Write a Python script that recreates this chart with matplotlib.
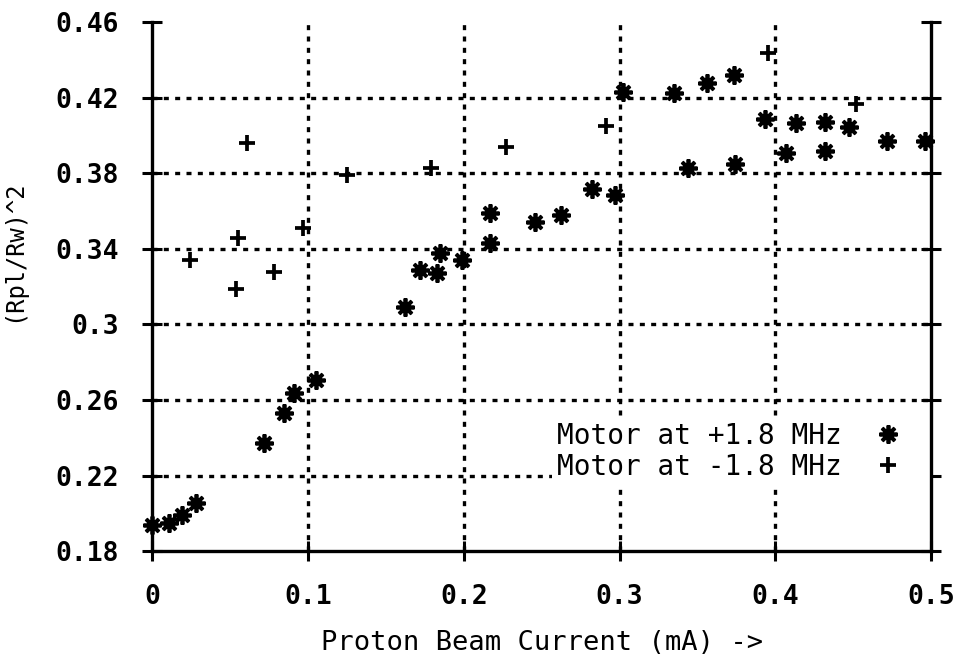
import matplotlib
matplotlib.use("Agg")
import matplotlib.pyplot as plt

# ---------- data ----------
pos_x = [0.0, 0.011, 0.019, 0.028, 0.072, 0.0845, 0.091, 0.105, 0.1626, 0.172,
         0.183, 0.185, 0.199, 0.217, 0.217, 0.246, 0.2626, 0.2826, 0.297, 0.302,
         0.335, 0.344, 0.356, 0.3735, 0.374, 0.3935, 0.407, 0.4135, 0.4316,
         0.4316, 0.447, 0.4716, 0.496]
pos_y = [0.1938, 0.1948, 0.199, 0.2054, 0.237, 0.253, 0.2636, 0.2705, 0.309, 0.329,
         0.327, 0.338, 0.334, 0.343, 0.359, 0.354, 0.358, 0.3715, 0.3684, 0.423,
         0.4223, 0.383, 0.428, 0.432, 0.385, 0.4086, 0.391, 0.4065, 0.407,
         0.3916, 0.4043, 0.397, 0.397]

neg_x = [0.0245, 0.054, 0.055, 0.061, 0.078, 0.097, 0.125, 0.179, 0.227, 0.291,
         0.3955, 0.452]
neg_y = [0.334, 0.319, 0.346, 0.396, 0.328, 0.351, 0.379, 0.383, 0.394, 0.405,
         0.4435, 0.417]

x_ticks = [0, 0.1, 0.2, 0.3, 0.4, 0.5]
x_labels = ["0", "0.1", "0.2", "0.3", "0.4", "0.5"]
y_ticks = [0.18, 0.22, 0.26, 0.30, 0.34, 0.38, 0.42, 0.46]
y_labels = ["0.18", "0.22", "0.26", "0.3", "0.34", "0.38", "0.42", "0.46"]

plt.rcParams["font.family"] = "DejaVu Sans Mono"

fig = plt.figure(figsize=(9.57, 6.56), dpi=100)
ax = fig.add_axes([0.159, 0.160, 0.814, 0.806])

# grid lines (inner only)
for v in y_ticks[1:-1]:
    ax.axhline(v, color="black", lw=2.4, ls=(0, (1.5, 1.9)), zorder=1)
for v in x_ticks[1:-1]:
    ax.axvline(v, color="black", lw=2.4, ls=(0, (1.5, 1.9)), zorder=1)

ax.plot(pos_x, pos_y, ls="none", marker=(8, 2, 0), ms=13, mew=2.7,
        color="black", label="Motor at +1.8 MHz", zorder=3, clip_on=False)
ax.plot(neg_x, neg_y, ls="none", marker="+", ms=12, mew=2.7,
        color="black", label="Motor at -1.8 MHz", zorder=3, clip_on=False)

ax.set_xlim(0, 0.5)
ax.set_ylim(0.18, 0.46)
ax.set_xticks(x_ticks)
ax.set_xticklabels(x_labels)
ax.set_yticks(y_ticks)
ax.set_yticklabels(y_labels)
ax.tick_params(direction="inout", length=14, width=2.2, pad=17,
               labelsize=19, right=True)
for lab in ax.get_xticklabels() + ax.get_yticklabels():
    lab.set_fontweight("bold")

ax.spines["top"].set_visible(False)
for s in ("left", "right", "bottom"):
    ax.spines[s].set_linewidth(2.4)

ax.set_xlabel("Proton Beam Current (mA) ->", fontsize=19.5, labelpad=14)
ax.set_ylabel("(Rpl/Rw)^2", fontsize=17)
ax.yaxis.set_label_coords(-0.163, 0.567)

leg = ax.legend(loc="lower right", bbox_to_anchor=(0.998, 0.122),
                markerfirst=False, frameon=True, fancybox=False,
                edgecolor="none", facecolor="white", framealpha=1.0,
                fontsize=20, borderaxespad=0, borderpad=0.2,
                handlelength=2.6, handletextpad=0.36, labelspacing=0.1)
leg.set_zorder(2)

fig.savefig("out.png", dpi=100)
